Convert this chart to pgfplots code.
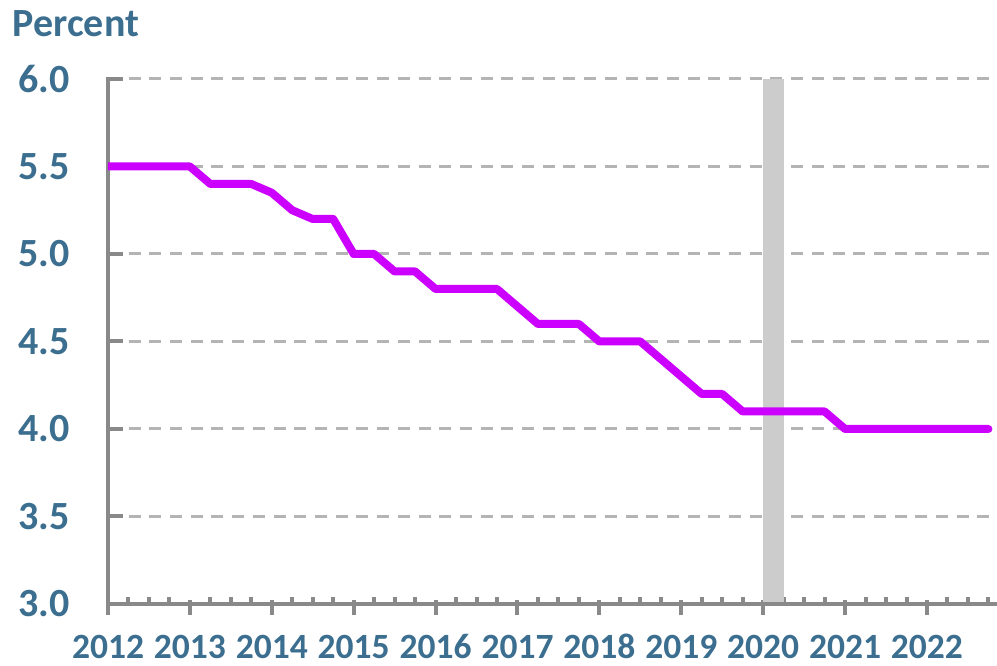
\documentclass[border=0pt]{standalone}
\usepackage{pgfplots}
\pgfplotsset{compat=1.18}
\usepackage{fontspec}
\setmainfont{Carlito}
\definecolor{txtblue}{RGB}{59,110,143}
\definecolor{linemag}{RGB}{204,0,255}
\definecolor{axgray}{RGB}{137,137,137}
\definecolor{gridgray}{RGB}{180,180,180}
\definecolor{bargray}{RGB}{204,204,204}
\begin{document}
\begin{tikzpicture}[x=1pt,y=1pt]
\useasboundingbox (0,0) rectangle (997,665);
\node[anchor=base west, inner sep=0pt, text=txtblue, font=\fontsize{40}{46}\selectfont\bfseries] at (12.6,628) {Percent};
\begin{axis}[
  at={(108pt,61pt)}, anchor=south west,
  scale only axis, width=889pt, height=525pt,
  xmin=2012, xmax=2022.855, ymin=3, ymax=6,
  axis lines*=left,
  axis line style={draw=axgray, line width=4.5pt, line cap=rect},
  xtick={2012,2013,...,2022},
  minor xtick={2012.25,2012.5,2012.75,2013.25,2013.5,2013.75,2014.25,2014.5,2014.75,2015.25,2015.5,2015.75,2016.25,2016.5,2016.75,2017.25,2017.5,2017.75,2018.25,2018.5,2018.75,2019.25,2019.5,2019.75,2020.25,2020.5,2020.75,2021.25,2021.5,2021.75,2022.25,2022.5,2022.75},
  ytick={3,3.5,...,6},
  tick align=inside,
  major tick length=15pt, minor tick length=7pt,
  major tick style={draw=axgray, line width=4pt},
  minor tick style={draw=axgray, line width=4pt},
  major x tick style={draw=axgray, line width=4pt, yshift=-11pt},
  ymajorgrids,
  major grid style={draw=gridgray, line width=3pt, dash pattern=on 12pt off 8.7pt},
  ticklabel style={text=txtblue, inner sep=0pt},
  xticklabel style={anchor=base, yshift=-54.5pt, font=\fontsize{35.5}{40}\selectfont\bfseries},
  yticklabel style={anchor=east, xshift=-38pt, font=\fontsize{40}{46}\selectfont\bfseries},
  /pgf/number format/assume math mode=true,
  xticklabel={\pgfmathprintnumber[1000 sep={},fixed,precision=0]{\tick}},
  yticklabel={\pgfmathprintnumber[fixed,fixed zerofill,precision=1]{\tick}},
]
\addplot[fill=bargray, draw=none] coordinates {(2020,3.012) (2020,6) (2020.25,6) (2020.25,3.012)} -- cycle;
\addplot[linemag, line width=8pt, line cap=round, line join=round, mark=none] coordinates {
(2012.00,5.5)
(2013.00,5.5)
(2013.25,5.4)
(2013.75,5.4)
(2014.00,5.35)
(2014.25,5.25)
(2014.50,5.2)
(2014.75,5.2)
(2015.00,5.0)
(2015.25,5.0)
(2015.50,4.9)
(2015.75,4.9)
(2016.00,4.8)
(2016.75,4.8)
(2017.00,4.7)
(2017.25,4.6)
(2017.75,4.6)
(2018.00,4.5)
(2018.50,4.5)
(2018.75,4.4)
(2019.00,4.3)
(2019.25,4.2)
(2019.50,4.2)
(2019.75,4.1)
(2020.75,4.1)
(2021.00,4.0)
(2022.75,4.0)
};
\end{axis}
\end{tikzpicture}
\end{document}
